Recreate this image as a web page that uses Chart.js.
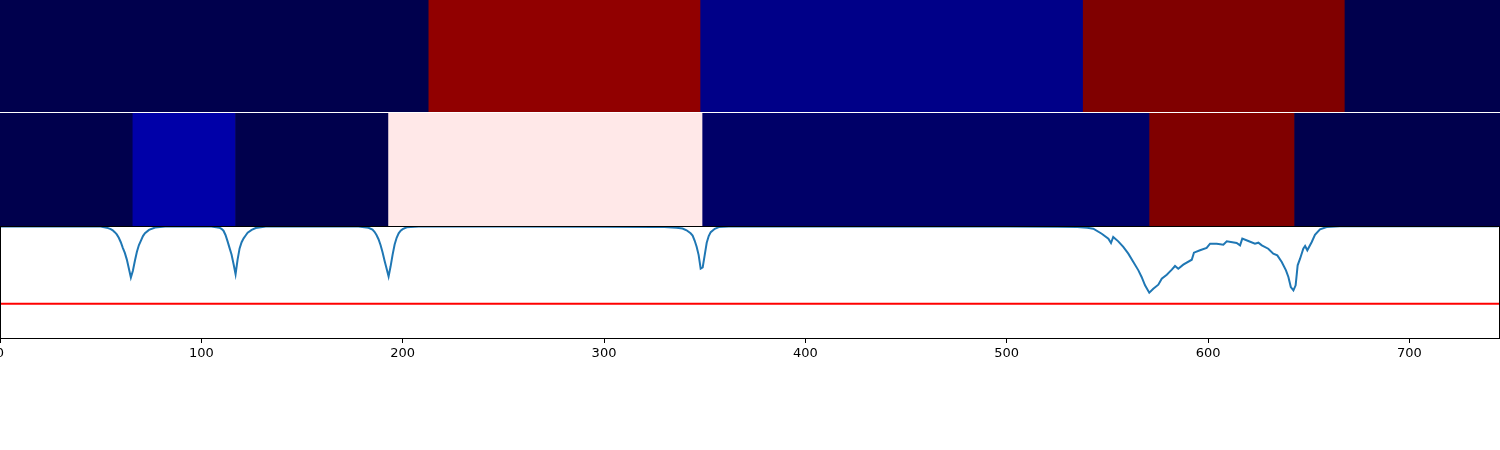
<!DOCTYPE html>
<html><head><meta charset="utf-8">
<script src="https://cdn.jsdelivr.net/npm/chart.js@4.4.0/dist/chart.umd.min.js"></script>
<style>
html,body{margin:0;padding:0;background:#fff;width:1500px;height:450px;overflow:hidden;}
canvas{position:absolute;left:0;}
</style></head><body>
<canvas id="row1" width="1500" height="112" style="top:0px"></canvas>
<canvas id="row2" width="1500" height="113" style="top:113px"></canvas>
<canvas id="plot" width="1500" height="230" style="top:220px"></canvas>
<script>
// ---- data ----
const xMin = 0, xMax = 745;
const row1Edges  = [0, 213, 348, 538, 668, 745];
const row1Values = [0.0, 0.965, 0.083, 1.0, 0.0];
const row2Edges  = [0, 66, 117, 193, 349, 571, 643, 745];
const row2Values = [0.0, 0.128, 0.0, 0.5225, 0.0386, 1.0, 0.0];
const xTickValues = [0, 100, 200, 300, 400, 500, 600, 700];
const threshold = 0.305;
const lineX = [0, 30, 50, 53, 55, 56, 57, 58, 59, 60, 61, 62, 63, 64, 65, 66, 67, 68, 69, 70, 71, 72, 74, 77, 82,
  100, 105, 109, 110, 111, 112, 113, 114, 115, 116, 117, 118, 119, 120, 121, 122, 123, 125, 127, 132,
  160, 178, 183, 185, 186, 187, 188, 189, 190, 191, 192, 193, 194, 195, 196, 197, 198, 199, 200, 202, 208,
  250, 300, 325, 330, 336, 339, 341, 343, 344, 345, 346, 347, 348, 349, 350, 351, 352, 353, 355, 357, 362,
  400, 450, 500, 525, 535, 540, 543, 547.2, 550.5, 551.8, 552.9, 555.4, 557.9, 560.4, 562.9, 565.4, 567, 568.7,
  570.8, 572.8, 575.3, 577, 579.5, 582, 583.6, 585.2, 587.7, 591.9, 593, 596, 599.3, 601, 604.3, 607.6, 609.3,
  614.2, 615.9, 617, 620, 623.3, 625, 626.7, 629.9, 632.4, 634.4, 636.6, 638.7, 639.9, 641.1, 642.4, 643.5,
  644.5, 645.7, 647.3, 648.2, 649.3, 651.5, 653.1, 655.6, 658.9, 665.5, 700, 744];
const lineY = [0.996, 0.996, 0.995, 0.985, 0.972, 0.962, 0.945, 0.925, 0.895, 0.855, 0.805, 0.76, 0.70, 0.62, 0.54, 0.60, 0.69, 0.77, 0.83, 0.87, 0.91, 0.935, 0.965, 0.987, 0.995,
  0.996, 0.995, 0.985, 0.975, 0.958, 0.92, 0.865, 0.805, 0.745, 0.66, 0.57, 0.70, 0.80, 0.855, 0.89, 0.915, 0.94, 0.965, 0.982, 0.995,
  0.996, 0.995, 0.984, 0.968, 0.948, 0.92, 0.882, 0.83, 0.765, 0.69, 0.62, 0.55, 0.64, 0.745, 0.835, 0.895, 0.935, 0.958, 0.972, 0.988, 0.995,
  0.995, 0.994, 0.992, 0.99, 0.985, 0.978, 0.962, 0.935, 0.915, 0.87, 0.815, 0.74, 0.62, 0.63, 0.74, 0.85, 0.91, 0.945, 0.975, 0.99, 0.995,
  0.996, 0.996, 0.995, 0.993, 0.99, 0.985, 0.976, 0.931, 0.887, 0.848, 0.902, 0.863, 0.813, 0.753, 0.679, 0.604, 0.545, 0.47,
  0.405, 0.44, 0.476, 0.53, 0.565, 0.61, 0.643, 0.619, 0.655, 0.699, 0.762, 0.783, 0.804, 0.842, 0.842, 0.833, 0.863,
  0.848, 0.827, 0.887, 0.866, 0.842, 0.851, 0.827, 0.797, 0.753, 0.738, 0.679, 0.604, 0.545, 0.455, 0.426, 0.47,
  0.649, 0.708, 0.797, 0.821, 0.783, 0.857, 0.922, 0.97, 0.991, 0.997, 0.998, 0.998];

// ---- style helpers ----
function seismic(v) {
  v = Math.max(0, Math.min(1, v));
  let r, g, b, t;
  if (v < 0.25) { t = v / 0.25; r = 0; g = 0; b = 0.3 + 0.7 * t; }
  else if (v < 0.5) { t = (v - 0.25) / 0.25; r = t; g = t; b = 1; }
  else if (v < 0.75) { t = (v - 0.5) / 0.25; r = 1; g = 1 - t; b = 1 - t; }
  else { t = (v - 0.75) / 0.25; r = 1 - 0.5 * t; g = 0; b = 0; }
  return 'rgb(' + Math.round(r * 255) + ',' + Math.round(g * 255) + ',' + Math.round(b * 255) + ')';
}

function makeRow(id, edges, values) {
  const data = values.map((v, i) => ({ x: [edges[i], edges[i + 1]], y: 'r' }));
  return new Chart(document.getElementById(id), {
    type: 'bar',
    data: { labels: ['r'], datasets: [{
      data: data,
      backgroundColor: values.map(seismic),
      borderWidth: 0,
      barPercentage: 1,
      categoryPercentage: 1
    }]},
    options: {
      indexAxis: 'y',
      responsive: false,
      animation: false,
      events: [],
      layout: { padding: 0 },
      plugins: { legend: { display: false }, tooltip: { enabled: false } },
      scales: {
        x: { type: 'linear', min: xMin, max: xMax, display: false },
        y: { type: 'category', display: false }
      }
    }
  });
}
makeRow('row1', row1Edges, row1Values);
makeRow('row2', row2Edges, row2Values);

const spinePlugin = {
  id: 'spines',
  afterDraw(chart) {
    const a = chart.chartArea, ctx = chart.ctx;
    ctx.save();
    ctx.strokeStyle = '#000';
    ctx.lineWidth = 1;
    ctx.strokeRect(a.left + 0.5, a.top + 0.5, a.right - a.left - 1, a.bottom - a.top);
    ctx.restore();
  }
};

new Chart(document.getElementById('plot'), {
  type: 'line',
  data: { datasets: [
    { data: lineX.map((x, i) => ({ x: x, y: lineY[i] })), borderColor: '#1f77b4', borderWidth: 2,
      pointRadius: 0, tension: 0, fill: false },
    { data: [{ x: xMin, y: threshold }, { x: xMax, y: threshold }], borderColor: '#ff0000', borderWidth: 2,
      pointRadius: 0, fill: false }
  ]},
  options: {
    responsive: false,
    animation: false,
    events: [],
    layout: { padding: { top: 6, left: 0, right: 0, bottom: 82 } },
    plugins: { legend: { display: false }, tooltip: { enabled: false } },
    scales: {
      x: {
        type: 'linear', min: xMin, max: xMax, position: 'bottom',
        afterBuildTicks: s => { s.ticks = xTickValues.map(v => ({ value: v })); },
        afterFit: s => { s.height = 30; s.paddingLeft = 0; s.paddingRight = 0; },
        grid: { display: true, drawOnChartArea: false, drawTicks: true, tickLength: 5, color: '#000', tickColor: '#000', lineWidth: 1 },
        border: { display: false },
        ticks: { color: '#000', font: { family: 'DejaVu Sans', size: 13 }, padding: 3, maxRotation: 0, autoSkip: false }
      },
      y: { type: 'linear', min: 0, max: 1, display: false }
    }
  },
  plugins: [spinePlugin]
});
</script>
</body></html>
